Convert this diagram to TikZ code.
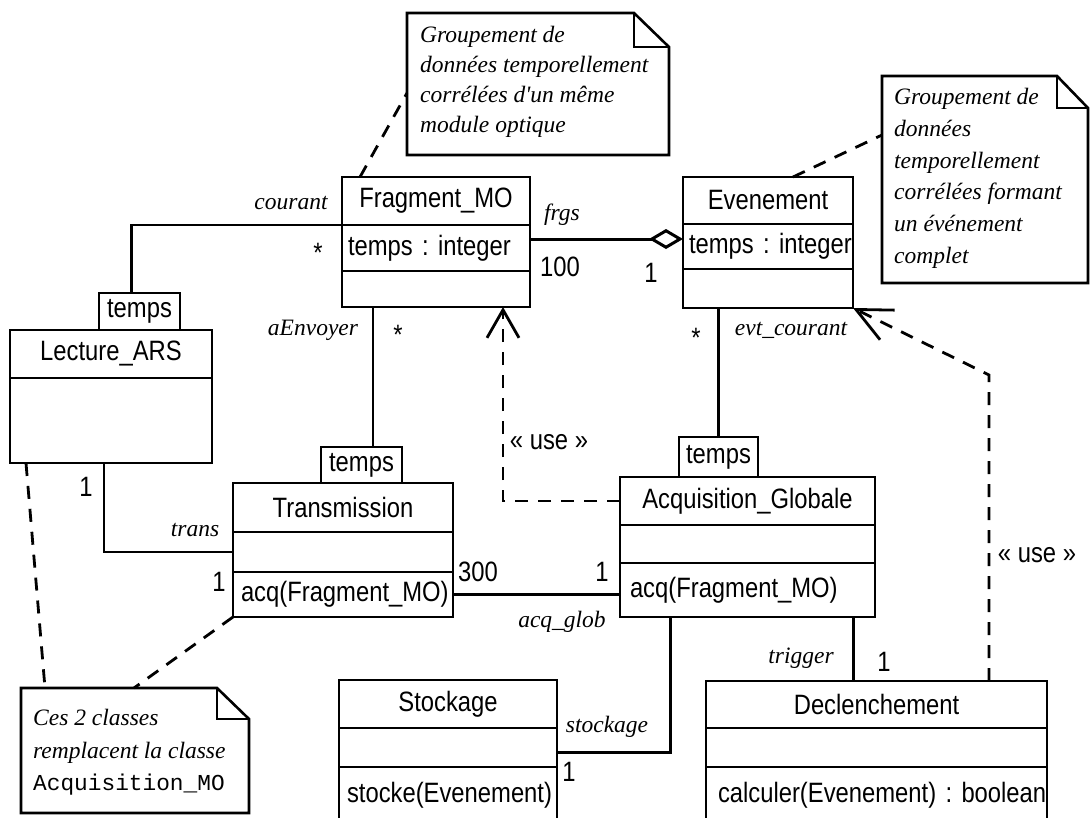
\documentclass[tikz,border=0pt]{standalone}
\usepackage{fontspec}
\setmainfont{Liberation Serif}
\newfontfamily\clsfont[FakeStretch=0.85]{Liberation Sans}
\newfontfamily\itfont{Liberation Serif}
\newfontfamily\mnfont{Liberation Mono}
\usetikzlibrary{arrows.meta}
\frenchspacing
\tikzset{
 clsf/.style={font=\clsfont\fontsize{28}{32}\selectfont\frenchspacing},
 comp/.style={draw, line width=2.6pt, anchor=north west, inner sep=0pt, outer sep=0pt, clsf},
 compl/.style={comp, align=left, inner xsep=6pt},
 assoc/.style={line width=2.2pt},
 assocb/.style={line width=3pt},
 dep/.style={line width=2.8pt, dash pattern=on 13pt off 10pt},
 lbl/.style={font=\itfont\itshape\fontsize{23.5}{26}\selectfont, inner sep=0pt},
 mult/.style={clsf, inner sep=0pt},
 notebox/.style={anchor=north west, inner sep=0pt, outer sep=0pt},
 nline/.style={line width=2.6pt, line join=miter},
 ntext/.style={anchor=north west, inner sep=0pt, align=left},
}
\begin{document}
\begin{tikzpicture}[x=1pt,y=-1pt]
\clip (0,0) rectangle (1090,817);
\fill[white] (0,0) rectangle (1090,817);

% ---------- notes ----------
\node[notebox, minimum width=262pt, minimum height=142pt] (n1) at (407,13) {};
\draw[nline] (n1.north west) -- ([xshift=-35pt]n1.north east) -- ([yshift=-34pt]n1.north east) -- (n1.south east) -- (n1.south west) -- cycle;
\draw[nline] ([xshift=-35pt]n1.north east) |- ([yshift=-34pt]n1.north east);
\node[ntext, font={\itfont\itshape\fontsize{23.5}{30}\selectfont}] (t1) at (420,26)
 {Groupement de\\données temporellement\\corrélées d'un même\\module optique};

\node[notebox, minimum width=206pt, minimum height=207pt] (n2) at (882,76) {};
\draw[nline] (n2.north west) -- ([xshift=-31pt]n2.north east) -- ([yshift=-32pt]n2.north east) -- (n2.south east) -- (n2.south west) -- cycle;
\draw[nline] ([xshift=-31pt]n2.north east) |- ([yshift=-32pt]n2.north east);
\node[ntext, font={\itfont\itshape\fontsize{23.5}{31.8}\selectfont}] (t2) at (894,88)
 {Groupement de\\données\\temporellement\\corrélées formant\\un événement\\complet};

\node[notebox, minimum width=228pt, minimum height=125pt] (n3) at (21,688) {};
\draw[nline] (n3.north west) -- ([xshift=-32pt]n3.north east) -- ([yshift=-31pt]n3.north east) -- (n3.south east) -- (n3.south west) -- cycle;
\draw[nline] ([xshift=-32pt]n3.north east) |- ([yshift=-31pt]n3.north east);
\node[ntext, font={\itfont\itshape\fontsize{23.5}{32.5}\selectfont}] (t3) at (33,709)
 {Ces 2 classes\\remplacent la classe\\{\mnfont\upshape\fontsize{22.8}{32.5}\selectfont Acquisition\_MO}};

% ---------- classes ----------
% Fragment_MO
\node[comp, minimum width=188pt, minimum height=48pt] (fragN) at (342,177) {Fragment\_MO};
\node[compl, text width=176pt, minimum height=46pt] (fragA) at (fragN.south west) {\mbox{temps : integer}};
\node[comp, minimum width=188pt, minimum height=36pt] (fragO) at (fragA.south west) {};

% Evenement
\node[comp, minimum width=170pt, minimum height=47pt] (evN) at (683,177) {Evenement};
\node[compl, text width=158pt, minimum height=45pt] (evA) at (evN.south west) {\mbox{temps : integer}};
\node[comp, minimum width=170pt, minimum height=39pt] (evO) at (evA.south west) {};

% Lecture_ARS
\node[comp, minimum width=81pt, minimum height=37pt] (lq) at (99,293) {temps};
\node[comp, minimum width=202pt, minimum height=48pt] (lecN) at (10,330) {Lecture\_ARS};
\node[comp, minimum width=202pt, minimum height=85pt] (lecB) at (lecN.south west) {};

% Transmission
\node[comp, minimum width=81pt, minimum height=36pt] (tq) at (321,447) {temps};
\node[comp, minimum width=220pt, minimum height=49pt] (trN) at (233,483) {Transmission};
\node[comp, minimum width=220pt, minimum height=40pt] (trA) at (trN.south west) {};
\node[compl, inner xsep=8pt, text width=204pt, minimum height=45pt] (trO) at (trA.south west) {\mbox{acq(Fragment\_MO)}};

% Acquisition_Globale
\node[comp, minimum width=79pt, minimum height=40pt] (aq) at (679,437) {temps};
\node[comp, minimum width=255pt, minimum height=48pt] (agN) at (620,477) {Acquisition\_Globale};
\node[comp, minimum width=255pt, minimum height=38pt] (agA) at (agN.south west) {};
\node[compl, inner xsep=10pt, text width=235pt, minimum height=54pt] (agO) at (agA.south west) {\mbox{acq(Fragment\_MO)}};

% Stockage
\node[comp, minimum width=218pt, minimum height=48pt] (stN) at (339,680) {Stockage};
\node[comp, minimum width=218pt, minimum height=39pt] (stA) at (stN.south west) {};
\node[compl, inner xsep=8pt, text width=202pt, minimum height=56pt] (stO) at (stA.south west) {\mbox{stocke(Evenement)}};

% Declenchement
\node[comp, minimum width=341pt, minimum height=47pt] (decN) at (706,681) {Declenchement};
\node[comp, minimum width=341pt, minimum height=39pt] (decA) at (decN.south west) {};
\node[compl, inner xsep=12pt, text width=317pt, minimum height=56pt] (decO) at (decA.south west) {\mbox{calculer(Evenement) : boolean}};

% ---------- associations ----------
\draw[assoc] ([xshift=-8pt]lq.north) |- (fragA.north west);
\draw[assoc] ([xshift=11.5pt]tq.north) -- ([xshift=11.5pt]tq.north |- fragO.south);
\draw[assocb, -{Diamond[open, length=34pt, width=20pt]}] ([yshift=9pt]fragA.east) -- ([yshift=9pt]fragA.east -| evA.west);
\draw[assoc] (aq.north) -- (aq.north |- evO.south);
\draw[assoc] ([xshift=-7pt]lecB.south) |- (trA.west);
\draw[assocb] (trO.east) -- (trO.east -| agO.west);
\draw[assocb] ([xshift=-77.5pt]agO.south) |- ([yshift=-4.5pt]stA.east);
\draw[assocb] ([xshift=-23.5pt]decN.north) -- ([xshift=-23.5pt]decN.north |- agO.south);

% ---------- dependencies ----------
\draw[dep, -{Straight Barb[length=28pt, width=32pt]}] (agN.west) -| ([xshift=67pt]fragO.south);
\coordinate (u2) at (989,375);
\draw[dep, -{Straight Barb[length=35pt, width=33pt]}] ([xshift=112.5pt]decN.north) -- (u2) -- (evO.south east);

% ---------- note links ----------
\draw[dep] ([xshift=18pt]fragN.north west) -- ([yshift=-9pt]n1.west);
\draw[dep] ([xshift=110pt]evN.north west) -- ([yshift=44.5pt]n2.west);
\draw[dep] ([xshift=16pt]lecB.south west) -- ([xshift=24pt]n3.north west);
\draw[dep] (trO.south west) -- ([xshift=113pt]n3.north west);

% ---------- labels ----------
\node[lbl] (lcourant) at (291,203) {courant};
\node[mult, anchor=north] (mcourant) at (318,243) {*};
\node[lbl] (laenv) at (313,330) {aEnvoyer};
\node[mult, anchor=north] (maenv) at (398,325) {*};
\node[lbl] (lfrgs) at (562,215) {frgs};
\node[mult] (m100) at (560,267) {100};
\node[mult] (m1ev) at (651,273) {1};
\node[mult, anchor=north] (mev) at (696,328) {*};
\node[lbl] (levt) at (791,330) {evt\_courant};
\node[mult] (m1lec) at (86,487) {1};
\node[lbl] (ltrans) at (195,530) {trans};
\node[mult] (m1tr) at (219,582) {1};
\node[mult] (m300) at (478,572) {300};
\node[mult] (m1ag) at (602,572) {1};
\node[lbl] (lacq) at (562,622) {acq\_glob};
\node[mult] (use1) at (549,442) {« use »};
\node[lbl] (lstock) at (607,727) {stockage};
\node[mult] (m1st) at (569,772) {1};
\node[lbl] (ltrig) at (801,658) {trigger};
\node[mult] (m1trig) at (884,662) {1};
\node[mult] (use2) at (1037,555) {« use »};
\end{tikzpicture}
\end{document}
